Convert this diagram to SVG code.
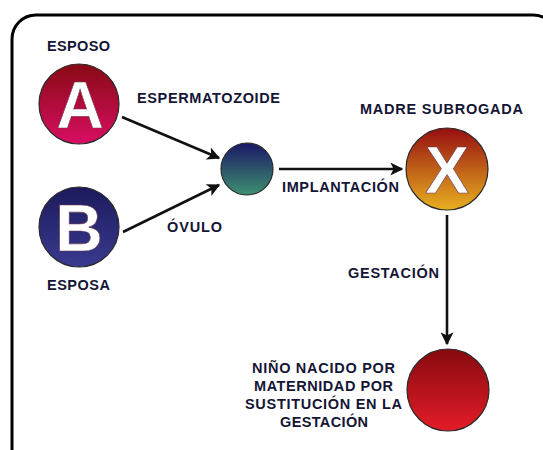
<svg xmlns="http://www.w3.org/2000/svg" width="543" height="450" viewBox="0 0 543 450">
<defs>
<style>
.lbl{font-family:"Liberation Sans",Arial,sans-serif;font-weight:bold;font-size:14.5px;fill:#151535}
.big{font-family:"Liberation Sans",Arial,sans-serif;font-weight:bold;font-size:66px;fill:#fff;stroke:#6a3a50;stroke-width:0.6;text-anchor:middle}
.node{stroke:#2a2a2a;stroke-width:1.2}
.conn{stroke:#111;stroke-width:2.6;fill:none}
</style>
<linearGradient id="gA" x1="0" y1="0" x2="0" y2="1"><stop offset="0" stop-color="#880a14"/><stop offset="1" stop-color="#d80e62"/></linearGradient>
<linearGradient id="gB" x1="0" y1="0" x2="0" y2="1"><stop offset="0" stop-color="#1c1a5c"/><stop offset="1" stop-color="#3a3a90"/></linearGradient>
<linearGradient id="gC" x1="0" y1="0" x2="0" y2="1"><stop offset="0" stop-color="#1a1866"/><stop offset="1" stop-color="#3e9070"/></linearGradient>
<linearGradient id="gX" x1="0" y1="0" x2="0" y2="1"><stop offset="0" stop-color="#960e10"/><stop offset="1" stop-color="#e8b020"/></linearGradient>
<linearGradient id="gD" x1="0" y1="0" x2="0" y2="1"><stop offset="0" stop-color="#860a0e"/><stop offset="1" stop-color="#e41c28"/></linearGradient>
<marker id="arr" viewBox="0 0 10 10" refX="9" refY="5" markerWidth="5" markerHeight="5" markerUnits="strokeWidth" orient="auto"><path d="M0,0 L10,5 L0,10 L2.5,5 Z" fill="#111"/></marker>
</defs>
<rect x="12" y="15" width="545" height="460" rx="24" ry="24" fill="#fff" stroke="#000" stroke-width="3"/>
<g id="connectors">
<line class="conn" x1="122" y1="117" x2="219" y2="158" marker-end="url(#arr)"/>
<line class="conn" x1="123" y1="232" x2="219" y2="185" marker-end="url(#arr)"/>
<line class="conn" x1="279" y1="169" x2="402" y2="169" marker-end="url(#arr)"/>
<line class="conn" x1="447" y1="215" x2="447" y2="344" marker-end="url(#arr)"/>
<text class="lbl" x="137" y="103" textLength="143">ESPERMATOZOIDE</text>
<text class="lbl" x="167" y="232" textLength="55">ÓVULO</text>
<text class="lbl" x="282" y="192" textLength="117">IMPLANTACIÓN</text>
<text class="lbl" x="348" y="278" textLength="91">GESTACIÓN</text>
</g>
<g id="nodeA">
<circle class="node" cx="79" cy="104" r="40" fill="url(#gA)"/>
<text class="big" x="80" y="128">A</text>
<text class="lbl" x="47" y="51" textLength="63">ESPOSO</text>
</g>
<g id="nodeB">
<circle class="node" cx="79" cy="227" r="40" fill="url(#gB)"/>
<text class="big" x="79" y="251">B</text>
<text class="lbl" x="47" y="290" textLength="63">ESPOSA</text>
</g>
<g id="nodeEmbryo">
<circle class="node" cx="247" cy="169" r="26" fill="url(#gC)"/>
</g>
<g id="nodeX">
<circle class="node" cx="447" cy="169" r="41" fill="url(#gX)"/>
<text class="big" x="447" y="193">X</text>
<text class="lbl" x="360" y="114" textLength="163">MADRE SUBROGADA</text>
</g>
<g id="nodeChild">
<circle class="node" cx="448" cy="390" r="41" fill="url(#gD)"/>
<text class="lbl" x="252" y="373" textLength="143">NIÑO NACIDO POR</text>
<text class="lbl" x="254" y="391" textLength="139">MATERNIDAD POR</text>
<text class="lbl" x="245" y="409" textLength="157">SUSTITUCIÓN EN LA</text>
<text class="lbl" x="280" y="427" textLength="88">GESTACIÓN</text>
</g>
</svg>
